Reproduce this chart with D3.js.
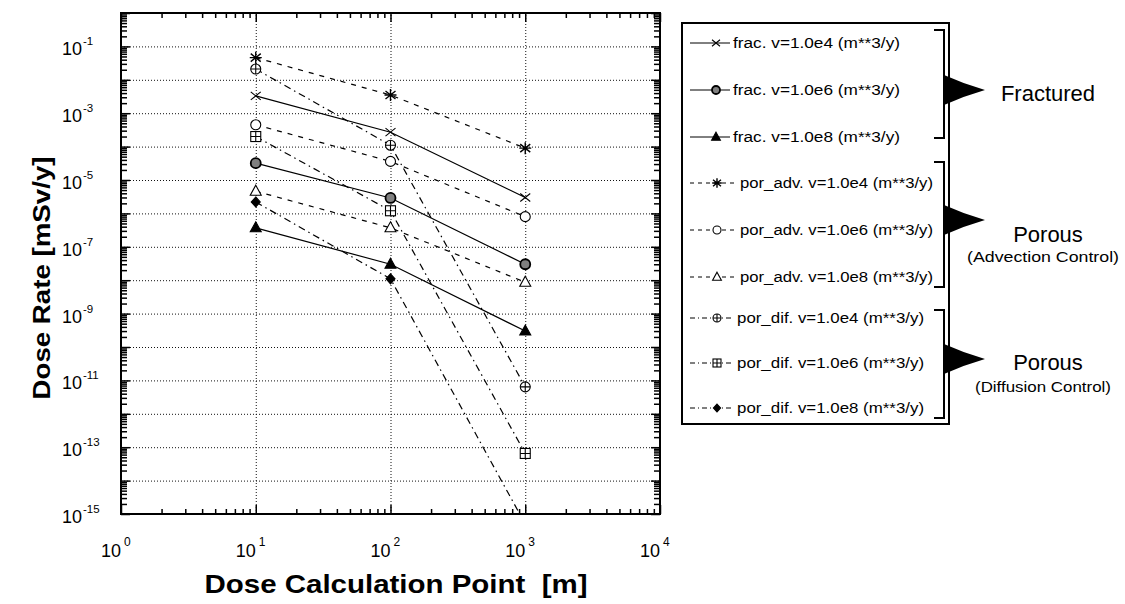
<!DOCTYPE html>
<html>
<head>
<meta charset="utf-8">
<script src="https://cdn.jsdelivr.net/npm/d3@7"></script>
<style>
  body { margin: 0; background: #fff; }
  svg { font-family: "Liberation Sans", Arial, Helvetica, sans-serif; }
</style>
</head>
<body>
<svg id="chart" width="1125" height="604"></svg>
<script>
// distances [m] where dose was computed
const distances = [10, 100, 1000];

// dose rate [mSv/y]
const fracV1e4 = [3.3e-3, 2.7e-4, 3.0e-6];
const fracV1e6 = [3.2e-5, 2.9e-6, 3.0e-8];
const fracV1e8 = [3.7e-7, 3.0e-8, 3.0e-10];
const advV1e4 = [4.6e-2, 3.5e-3, 9.0e-5];
const advV1e6 = [4.5e-4, 3.6e-5, 8.0e-7];
const advV1e8 = [4.6e-6, 3.7e-7, 8.7e-9];
const difV1e4 = [2.1e-2, 1.1e-4, 6.4e-12];
const difV1e6 = [2.0e-4, 1.2e-6, 6.5e-14];
const difV1e8 = [2.2e-6, 1.1e-8, 5.0e-16];

const seriesNames = [
  'frac. v=1.0e4 (m**3/y)', 'frac. v=1.0e6 (m**3/y)', 'frac. v=1.0e8 (m**3/y)',
  'por_adv. v=1.0e4 (m**3/y)', 'por_adv. v=1.0e6 (m**3/y)', 'por_adv. v=1.0e8 (m**3/y)',
  'por_dif. v=1.0e4 (m**3/y)', 'por_dif. v=1.0e6 (m**3/y)', 'por_dif. v=1.0e8 (m**3/y)'
];
const xTickExps = [0, 1, 2, 3, 4];
const yTickExps = [-1, -3, -5, -7, -9, -11, -13, -15];
const groupLabels = ['Fractured', 'Porous', 'Porous'];
const groupSubLabels = ['', '(Advection Control)', '(Diffusion Control)'];

const solid = null, dashed = '5,6', dashDot = '7,4,1.5,4';
const series = [
  { values: fracV1e4, dash: solid, marker: 'x' },
  { values: fracV1e6, dash: solid, marker: 'dot' },
  { values: fracV1e8, dash: solid, marker: 'tri' },
  { values: advV1e4, dash: dashed, marker: 'star' },
  { values: advV1e6, dash: dashed, marker: 'circ' },
  { values: advV1e8, dash: dashed, marker: 'otri' },
  { values: difV1e4, dash: dashDot, marker: 'cplus' },
  { values: difV1e6, dash: dashDot, marker: 'splus' },
  { values: difV1e8, dash: dashDot, marker: 'diam' }
].map((s, i) => ({ ...s, name: seriesNames[i] }));

const svg = d3.select('#chart');
const pLeft = 121, pRight = 660, pTop = 13, pBottom = 514;

const x = d3.scaleLog().domain([1, 1e4]).range([pLeft, pRight]);
const y = d3.scaleLog().domain([1e-15, 1]).range([pBottom, pTop]);

// grid lines (dotted)
const grid = svg.append('g');
grid.append('g')
    .attr('transform', `translate(0,${pBottom})`)
    .call(d3.axisBottom(x).tickValues([10, 100, 1000]).tickSize(-(pBottom - pTop)).tickFormat(''));
grid.append('g')
    .attr('transform', `translate(${pLeft},0)`)
    .call(d3.axisLeft(y).tickValues(d3.range(-14, 0).map(e => Math.pow(10, e))).tickSize(-(pRight - pLeft)).tickFormat(''));
grid.selectAll('.domain').remove();
grid.selectAll('line')
    .attr('stroke', '#111')
    .attr('stroke-width', 1)
    .attr('stroke-dasharray', '1,2');

// ticks on all four sides, pointing inward
const minorX = [], minorY = [];
[1, 10, 100, 1000].forEach(d => { for (let k = 2; k <= 9; k++) minorX.push(d * k); });
for (let e = -15; e < 0; e++) for (let k = 2; k <= 9; k++) minorY.push(k * Math.pow(10, e));
const majorX = xTickExps.map(e => Math.pow(10, e));
const majorY = d3.range(-15, 1).map(e => Math.pow(10, e));

const ticks = svg.append('g');
function addTicks(axis, values, size, tr) {
  ticks.append('g')
      .attr('transform', tr)
      .call(axis.tickValues(values).tickSize(-size).tickFormat(''));
}
addTicks(d3.axisBottom(x), minorX, 5, `translate(0,${pBottom})`);
addTicks(d3.axisBottom(x), majorX, 9, `translate(0,${pBottom})`);
addTicks(d3.axisTop(x), minorX, 5, `translate(0,${pTop})`);
addTicks(d3.axisTop(x), majorX, 9, `translate(0,${pTop})`);
addTicks(d3.axisLeft(y), minorY, 6, `translate(${pLeft},0)`);
addTicks(d3.axisLeft(y), majorY, 9, `translate(${pLeft},0)`);
addTicks(d3.axisRight(y), minorY, 6, `translate(${pRight},0)`);
addTicks(d3.axisRight(y), majorY, 9, `translate(${pRight},0)`);
ticks.selectAll('.domain').remove();
ticks.selectAll('line').attr('stroke', '#000').attr('stroke-width', 1.5);

// frame
svg.append('rect')
    .attr('x', pLeft).attr('y', pTop)
    .attr('width', pRight - pLeft).attr('height', pBottom - pTop)
    .attr('fill', 'none').attr('stroke', '#000').attr('stroke-width', 2);

// tick labels: 10 with a superscript exponent
xTickExps.forEach(e => {
  const px = x(Math.pow(10, e));
  svg.append('text')
      .attr('x', px - 10).attr('y', 557)
      .attr('text-anchor', 'middle').attr('font-size', 18)
      .text('10');
  svg.append('text')
      .attr('x', px + 3).attr('y', 546)
      .attr('font-size', 12)
      .text(e);
});
yTickExps.forEach(e => {
  const py = y(Math.pow(10, e));
  svg.append('text')
      .attr('x', 82).attr('y', py + 9)
      .attr('text-anchor', 'end').attr('font-size', 18)
      .text('10');
  svg.append('text')
      .attr('x', 83).attr('y', py - 1)
      .attr('font-size', 11.5)
      .text(e);
});

// axis titles
svg.append('text')
    .attr('x', 396).attr('y', 593)
    .attr('text-anchor', 'middle')
    .attr('font-size', 25).attr('font-weight', 'bold')
    .attr('textLength', 383).attr('lengthAdjust', 'spacingAndGlyphs')
    .style('white-space', 'pre')
    .text('Dose Calculation Point  [m]');
svg.append('text')
    .attr('transform', 'translate(50,278) rotate(-90)')
    .attr('text-anchor', 'middle')
    .attr('font-size', 24).attr('font-weight', 'bold')
    .attr('textLength', 243).attr('lengthAdjust', 'spacingAndGlyphs')
    .text('Dose Rate [mSv/y]');

// markers
function drawMarker(g, type, s) {
  const k = s / 5;
  const st = { stroke: '#000', 'stroke-width': 1.1 };
  const add = (tag, attrs) => {
    const el = g.append(tag);
    Object.entries({ ...st, ...attrs }).forEach(([a, v]) => el.attr(a, v));
    return el;
  };
  const plus = r => `M${-r*k},0L${r*k},0M0,${-r*k}L0,${r*k}`;
  if (type === 'x') add('path', { d: `M${-5*k},${-4*k}L${5*k},${4*k}M${-5*k},${4*k}L${5*k},${-4*k}`, fill: 'none' });
  if (type === 'star') add('path', { d: `M${-5*k},${-4*k}L${5*k},${4*k}M${-5*k},${4*k}L${5*k},${-4*k}M0,${-6*k}L0,${6*k}M${-6*k},0L${6*k},0`, fill: 'none', 'stroke-width': 1.4 });
  if (type === 'dot') add('circle', { r: 5 * k, fill: '#808080', 'stroke-width': 1.8 });
  if (type === 'circ') add('circle', { r: 5 * k, fill: '#fff' });
  if (type === 'tri') add('path', { d: `M0,${-6*k}L${5.5*k},${4*k}L${-5.5*k},${4*k}Z`, fill: '#000' });
  if (type === 'otri') add('path', { d: `M0,${-6*k}L${5.5*k},${4*k}L${-5.5*k},${4*k}Z`, fill: '#fff' });
  if (type === 'cplus') { add('circle', { r: 5 * k, fill: '#fff' }); add('path', { d: plus(5), fill: 'none' }); }
  if (type === 'splus') { add('rect', { x: -5*k, y: -5*k, width: 10*k, height: 10*k, fill: '#fff' }); add('path', { d: plus(5), fill: 'none' }); }
  if (type === 'diam') add('path', { d: `M0,${-5*k}L${4.5*k},0L0,${5*k}L${-4.5*k},0Z`, fill: '#000' });
}

// data lines
svg.append('clipPath').attr('id', 'plot-clip')
  .append('rect').attr('x', pLeft).attr('y', pTop).attr('width', pRight - pLeft).attr('height', pBottom - pTop);
const plot = svg.append('g').attr('clip-path', 'url(#plot-clip)');
const line = d3.line().x(d => x(d[0])).y(d => y(d[1]));

series.forEach(s => {
  const pts = distances.map((d, i) => [d, s.values[i]]);
  plot.append('path')
      .datum(pts)
      .attr('d', line)
      .attr('fill', 'none')
      .attr('stroke', '#000')
      .attr('stroke-width', 1.2)
      .attr('stroke-dasharray', s.dash);
});
series.forEach(s => {
  distances.forEach((d, i) => {
    const g = plot.append('g').attr('transform', `translate(${x(d)},${y(s.values[i])})`);
    drawMarker(g, s.marker, 5);
  });
});

// legend
const lg = svg.append('g');
lg.append('rect')
    .attr('x', 682).attr('y', 23).attr('width', 267).attr('height', 401)
    .attr('fill', '#fff').attr('stroke', '#000').attr('stroke-width', 2);

const rowY = [43, 90, 137, 183, 230, 277, 318, 363, 408];
const textStart = [733, 733, 733, 740, 740, 740, 737, 737, 737];
const textLen = [167, 167, 167, 193, 193, 193, 187, 187, 187];
series.forEach((s, i) => {
  const yy = rowY[i];
  lg.append('line')
      .attr('x1', 690).attr('x2', textStart[i] - 3)
      .attr('y1', yy).attr('y2', yy)
      .attr('stroke', '#000').attr('stroke-width', 1)
      .attr('stroke-dasharray', s.dash ? (s.dash === dashed ? '4,4' : '5,3,1,3') : null);
  const g = lg.append('g').attr('transform', `translate(${i < 3 ? 716 : 717},${yy})`);
  drawMarker(g, s.marker, 4);
  lg.append('text')
      .attr('x', textStart[i]).attr('y', yy + 5)
      .attr('font-size', 14)
      .attr('textLength', textLen[i]).attr('lengthAdjust', 'spacingAndGlyphs')
      .text(s.name);
});

// group brackets, flags and labels
const groups = [
  { y0: 30, y1: 138, cy: 90 },
  { y0: 162, y1: 287, cy: 220 },
  { y0: 310, y1: 418, cy: 359 }
];
groups.forEach((g, i) => {
  lg.append('path')
      .attr('d', `M934,${g.y0}H944V${g.y1}H934`)
      .attr('fill', 'none').attr('stroke', '#000').attr('stroke-width', 2);
  lg.append('path')
      .attr('d', `M944,${g.cy - 15}Q964,${g.cy - 6} 985,${g.cy}Q964,${g.cy + 6} 944,${g.cy + 15}Z`)
      .attr('fill', '#000');
  lg.append('text')
      .attr('x', 1048).attr('y', i === 0 ? 101 : (i === 1 ? 242 : 370))
      .attr('text-anchor', 'middle').attr('font-size', 22)
      .text(groupLabels[i]);
  if (groupSubLabels[i]) {
    lg.append('text')
        .attr('x', 1043).attr('y', i === 1 ? 262 : 392)
        .attr('text-anchor', 'middle').attr('font-size', 14)
        .attr('textLength', i === 1 ? 152 : 136).attr('lengthAdjust', 'spacingAndGlyphs')
        .text(groupSubLabels[i]);
  }
});
</script>
</body>
</html>
